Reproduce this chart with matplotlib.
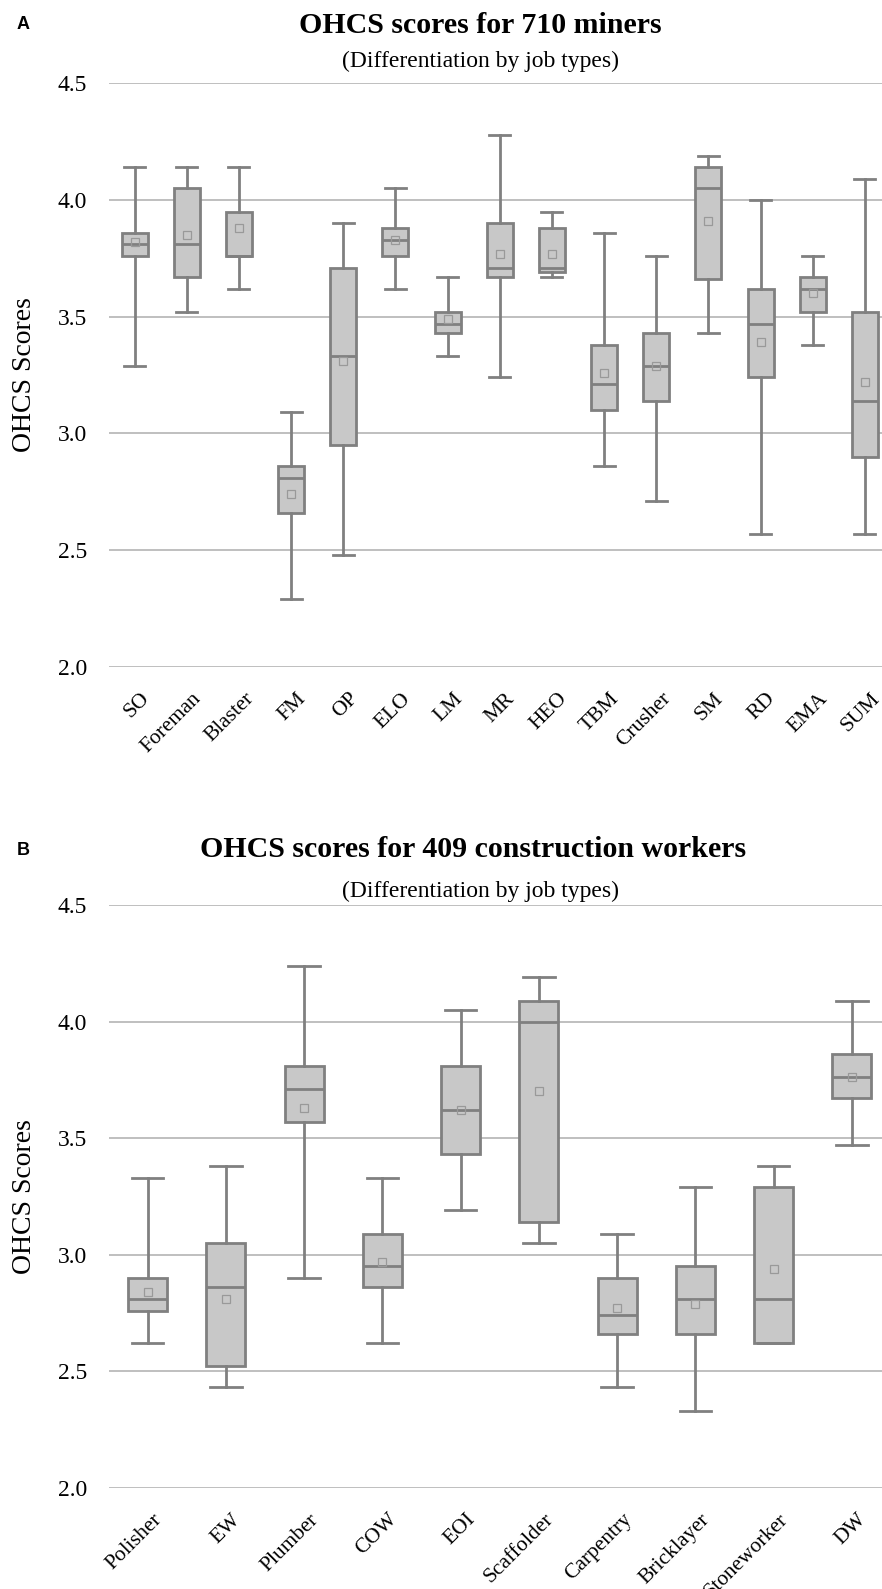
import matplotlib
matplotlib.use("Agg")
import matplotlib.pyplot as plt
from matplotlib.transforms import ScaledTranslation

# panel A: miners by job type
jobs_a = ["SO", "Foreman", "Blaster", "FM", "OP", "ELO", "LM", "MR", "HEO",
          "TBM", "Crusher", "SM", "RD", "EMA", "SUM"]
lo_a = [3.29, 3.52, 3.62, 2.29, 2.48, 3.62, 3.33, 3.24, 3.67, 2.86, 2.71, 3.43, 2.57, 3.38, 2.57]
q1_a = [3.76, 3.67, 3.76, 2.66, 2.95, 3.76, 3.43, 3.67, 3.69, 3.10, 3.14, 3.66, 3.24, 3.52, 2.90]
med_a = [3.81, 3.81, 3.76, 2.81, 3.33, 3.83, 3.47, 3.71, 3.71, 3.21, 3.29, 4.05, 3.47, 3.62, 3.14]
q3_a = [3.86, 4.05, 3.95, 2.86, 3.71, 3.88, 3.52, 3.90, 3.88, 3.38, 3.43, 4.14, 3.62, 3.67, 3.52]
hi_a = [4.14, 4.14, 4.14, 3.09, 3.90, 4.05, 3.67, 4.28, 3.95, 3.86, 3.76, 4.19, 4.00, 3.76, 4.09]
mean_a = [3.82, 3.85, 3.88, 2.74, 3.31, 3.83, 3.49, 3.77, 3.77, 3.26, 3.29, 3.91, 3.39, 3.60, 3.22]

# panel B: construction workers by job type
jobs_b = ["Polisher", "EW", "Plumber", "COW", "EOI", "Scaffolder", "Carpentry",
          "Bricklayer", "Stoneworker", "DW"]
lo_b = [2.62, 2.43, 2.90, 2.62, 3.19, 3.05, 2.43, 2.33, 2.62, 3.47]
q1_b = [2.76, 2.52, 3.57, 2.86, 3.43, 3.14, 2.66, 2.66, 2.62, 3.67]
med_b = [2.81, 2.86, 3.71, 2.95, 3.62, 4.00, 2.74, 2.81, 2.81, 3.76]
q3_b = [2.90, 3.05, 3.81, 3.09, 3.81, 4.09, 2.90, 2.95, 3.29, 3.86]
hi_b = [3.33, 3.38, 4.24, 3.33, 4.05, 4.19, 3.09, 3.29, 3.38, 4.09]
mean_b = [2.84, 2.81, 3.63, 2.97, 3.62, 3.70, 2.77, 2.79, 2.94, 3.76]

yticks = [2.0, 2.5, 3.0, 3.5, 4.0, 4.5]

W, H = 882, 1589
SERIF = "Liberation Serif"
EDGE = "#808080"
FILL = "#c8c8c8"
GRID = "#b4b4b4"


def draw_panel(rect, jobs, lo, q1, med, q3, hi, mean):
    ax = fig.add_axes(rect)
    stats = [dict(label=j, whislo=a, q1=b, med=c, q3=d, whishi=e, mean=m, fliers=[])
             for j, a, b, c, d, e, m in zip(jobs, lo, q1, med, q3, hi, mean)]
    ax.bxp(stats, positions=range(len(jobs)), widths=0.5, capwidths=0.4,
           showmeans=True, patch_artist=True, manage_ticks=False,
           boxprops=dict(facecolor=FILL, edgecolor=EDGE, linewidth=2.0),
           medianprops=dict(color=EDGE, linewidth=2.0),
           whiskerprops=dict(color=EDGE, linewidth=2.0),
           capprops=dict(color=EDGE, linewidth=2.0),
           meanprops=dict(marker="s", markerfacecolor="none", markeredgecolor="#999999",
                          markersize=6, markeredgewidth=0.9))
    ax.set_xlim(-0.5, len(jobs) - 0.5)
    ax.set_ylim(2.0, 4.5)
    ax.set_yticks(yticks)
    ax.set_yticklabels([f"{t:.1f}" for t in yticks], fontfamily=SERIF, fontsize=17)
    ax.set_xticks(range(len(jobs)))
    ax.set_xticklabels(jobs, fontfamily=SERIF, fontsize=15.5, rotation=45,
                       ha="right", va="center", rotation_mode="anchor")
    ax.tick_params(axis="both", length=0)
    ax.tick_params(axis="y", pad=15.5)
    ax.tick_params(axis="x", pad=21)
    # nudge the slanted labels to the right, as in the source chart
    shift = ScaledTranslation(12 / 100, 0, fig.dpi_scale_trans)
    for lab in ax.get_xticklabels():
        lab.set_transform(lab.get_transform() + shift)
    for s in ax.spines.values():
        s.set_visible(False)
    ax.yaxis.grid(True, color=GRID, linewidth=1.2)
    ax.set_axisbelow(True)
    ax.set_ylabel("OHCS Scores", fontfamily=SERIF, fontsize=20, labelpad=15)
    return ax


fig = plt.figure(figsize=(W / 100, H / 100), dpi=100)

left = 108.5 / W
width = (891.0 - 108.5) / W
draw_panel([left, (H - 666.7) / H, width, 583.4 / H],
           jobs_a, lo_a, q1_a, med_a, q3_a, hi_a, mean_a)
draw_panel([left, (H - 1487.7) / H, width, 582.7 / H],
           jobs_b, lo_b, q1_b, med_b, q3_b, hi_b, mean_b)

fig.text(480 / W, 1 - 33 / H, "OHCS scores for 710 miners", fontfamily=SERIF,
         fontweight="bold", fontsize=21.5, ha="center", va="baseline")
fig.text(480 / W, 1 - 67 / H, "(Differentiation by job types)", fontfamily=SERIF,
         fontsize=17, ha="center", va="baseline")
fig.text(473 / W, 1 - 857 / H, "OHCS scores for 409 construction workers", fontfamily=SERIF,
         fontweight="bold", fontsize=21.5, ha="center", va="baseline")
fig.text(481 / W, 1 - 897 / H, "(Differentiation by job types)", fontfamily=SERIF,
         fontsize=17, ha="center", va="baseline")

fig.text(17 / W, 1 - 29 / H, "A", fontfamily="Liberation Sans", fontweight="bold",
         fontsize=13, ha="left", va="baseline")
fig.text(17 / W, 1 - 855 / H, "B", fontfamily="Liberation Sans", fontweight="bold",
         fontsize=13, ha="left", va="baseline")

fig.savefig("out.png", dpi=100)
